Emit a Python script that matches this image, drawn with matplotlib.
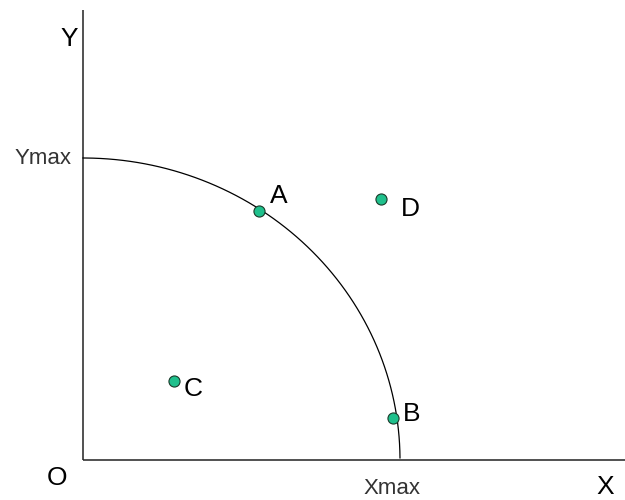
import numpy as np
import matplotlib.pyplot as plt

plt.rcParams["font.family"] = ["Liberation Sans", "DejaVu Sans"]

# point positions, in units of Xmax / Ymax
point_names = ["A", "B", "C", "D"]
point_x = [0.555, 0.978, 0.287, 0.94]
point_y = [0.825, 0.139, 0.262, 0.864]

# the boundary: a quarter ellipse through (Xmax, 0) and (0, Ymax)
theta = np.linspace(0.007, np.pi / 2, 200)
curve_x = np.cos(theta)
curve_y = np.sin(theta)

fig = plt.figure(figsize=(6.25, 5), dpi=100)
ax = fig.add_axes([0, 0, 1, 1])
ax.set_xlim(-83 / 317, 542 / 317)
ax.set_ylim(-40 / 302, 460 / 302)
ax.axis("off")

# axes lines
ax.plot([0, 0], [0, 1.49], color="#222222", lw=1.1, solid_capstyle="butt")
ax.plot([0, 542 / 317], [0, 0], color="#222222", lw=1.1, solid_capstyle="butt")

ax.plot(curve_x, curve_y, color="black", lw=0.9)

ax.plot(point_x, point_y, "o", ms=8, mfc="#1fc08c", mec="#1a3a2a", mew=0.8)

label_dx = [0.063, 0.06, 0.06, 0.092]
label_dy = [0.059, 0.02, -0.02, -0.026]
for name, x, y, dx, dy in zip(point_names, point_x, point_y, label_dx, label_dy):
    ax.text(x + dx, y + dy, name, fontsize=19, ha="center", va="center_baseline")

ax.text(-0.044, 1.401, "Y", fontsize=19, ha="center", va="center_baseline")
ax.text(-0.035, 1.007, "Ymax", fontsize=16, ha="right", va="center_baseline", color="#333333")
ax.text(-0.082, -0.05, "O", fontsize=19, ha="center", va="center_baseline")
ax.text(0.975, -0.086, "Xmax", fontsize=16, ha="center", va="center_baseline", color="#333333")
ax.text(1.647, -0.08, "X", fontsize=19, ha="center", va="center_baseline")

fig.savefig("out.png", dpi=100)
